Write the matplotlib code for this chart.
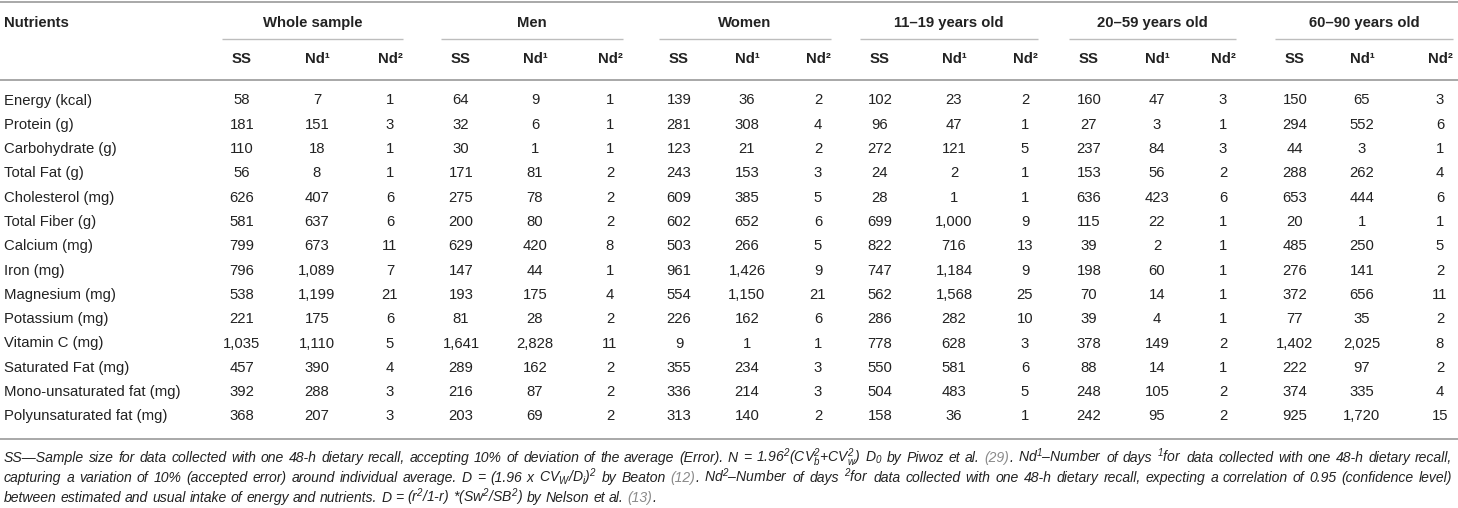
import re
import matplotlib
matplotlib.use("Agg")
import matplotlib.pyplot as plt

plt.rcParams['font.family'] = ['Liberation Sans', 'DejaVu Sans']
plt.rcParams['mathtext.fontset'] = 'custom'
plt.rcParams['mathtext.rm'] = 'Liberation Sans:italic'
plt.rcParams['mathtext.it'] = 'Liberation Sans:italic'
plt.rcParams['mathtext.bf'] = 'Liberation Sans:bold'

# -- table data --
nutrients = ["Energy (kcal)", "Protein (g)", "Carbohydrate (g)", "Total Fat (g)",
             "Cholesterol (mg)", "Total Fiber (g)", "Calcium (mg)", "Iron (mg)",
             "Magnesium (mg)", "Potassium (mg)", "Vitamin C (mg)", "Saturated Fat (mg)",
             "Mono-unsaturated fat (mg)", "Polyunsaturated fat (mg)"]

groups = ["Whole sample", "Men", "Women", "11\u201319 years old",
          "20\u201359 years old", "60\u201390 years old"]
sub_cols = ["SS", "Nd\u00b9", "Nd\u00b2"]

whole_ss = [58, 181, 110, 56, 626, 581, 799, 796, 538, 221, 1035, 457, 392, 368]
whole_nd1 = [7, 151, 18, 8, 407, 637, 673, 1089, 1199, 175, 1110, 390, 288, 207]
whole_nd2 = [1, 3, 1, 1, 6, 6, 11, 7, 21, 6, 5, 4, 3, 3]

men_ss = [64, 32, 30, 171, 275, 200, 629, 147, 193, 81, 1641, 289, 216, 203]
men_nd1 = [9, 6, 1, 81, 78, 80, 420, 44, 175, 28, 2828, 162, 87, 69]
men_nd2 = [1, 1, 1, 2, 2, 2, 8, 1, 4, 2, 11, 2, 2, 2]

women_ss = [139, 281, 123, 243, 609, 602, 503, 961, 554, 226, 9, 355, 336, 313]
women_nd1 = [36, 308, 21, 153, 385, 652, 266, 1426, 1150, 162, 1, 234, 214, 140]
women_nd2 = [2, 4, 2, 3, 5, 6, 5, 9, 21, 6, 1, 3, 3, 2]

age11_ss = [102, 96, 272, 24, 28, 699, 822, 747, 562, 286, 778, 550, 504, 158]
age11_nd1 = [23, 47, 121, 2, 1, 1000, 716, 1184, 1568, 282, 628, 581, 483, 36]
age11_nd2 = [2, 1, 5, 1, 1, 9, 13, 9, 25, 10, 3, 6, 5, 1]

age20_ss = [160, 27, 237, 153, 636, 115, 39, 198, 70, 39, 378, 88, 248, 242]
age20_nd1 = [47, 3, 84, 56, 423, 22, 2, 60, 14, 4, 149, 14, 105, 95]
age20_nd2 = [3, 1, 3, 2, 6, 1, 1, 1, 1, 1, 2, 1, 2, 2]

age60_ss = [150, 294, 44, 288, 653, 20, 485, 276, 372, 77, 1402, 222, 374, 925]
age60_nd1 = [65, 552, 3, 262, 444, 1, 250, 141, 656, 35, 2025, 97, 335, 1720]
age60_nd2 = [3, 6, 1, 4, 6, 1, 5, 2, 11, 2, 8, 2, 4, 15]

group_data = [
    (whole_ss, whole_nd1, whole_nd2),
    (men_ss, men_nd1, men_nd2),
    (women_ss, women_nd1, women_nd2),
    (age11_ss, age11_nd1, age11_nd2),
    (age20_ss, age20_nd1, age20_nd2),
    (age60_ss, age60_nd1, age60_nd2),
]

footnote_lines = [
    "SS\u2014Sample size for data collected with one 48-h dietary recall, accepting 10% of "
    "deviation of the average (Error). N = 1.96$^2$(CV$_b^2$+CV$_w^2$) D$_0$ by Piwoz et al. "
    "{(29)}. Nd$^1$\u2013Number of days $^1$for data collected with one 48-h dietary recall,",
    "capturing a variation of 10% (accepted error) around individual average. "
    "D = (1.96 x CV$_W$/D$_i$)$^2$ by Beaton {(12)}. Nd$^2$\u2013Number of days $^2$for data "
    "collected with one 48-h dietary recall, expecting a correlation of 0.95 (confidence level)",
    "between estimated and usual intake of energy and nutrients. "
    "D = (r$^2$/1-r) *(Sw$^2$/SB$^2$) by Nelson et al. {(13)}.",
]

# -- layout (pixels) --
W, H = 1458, 508
col_x = [(242, 317, 390), (461, 535, 610), (679, 747, 818),
         (880, 954, 1025), (1089, 1157, 1223), (1295, 1362, 1440)]
y_group = 23
y_sub = 59
y_first = 100.5
row_step = 24.3
fs = 10.7
fs_note = 10.1
txt_col = "#222222"
line_col = "#a8a8a8"

fig = plt.figure(figsize=(W / 100, H / 100), dpi=100)
ax = fig.add_axes([0, 0, 1, 1])
ax.set_xlim(0, W)
ax.set_ylim(H, 0)
ax.axis("off")

# rules
for y in (2, 80, 439):
    ax.plot([0, W], [y, y], color=line_col, lw=1.4, solid_capstyle="butt")
for xs in col_x:
    ax.plot([xs[0] - 20, xs[2] + 13], [39, 39], color="#bdbdbd", lw=1.0,
            solid_capstyle="butt")

# headers
ax.text(4, y_group, "Nutrients", fontsize=fs, fontweight="bold", color=txt_col,
        ha="left", va="center")
for g, xs in zip(groups, col_x):
    ax.text((xs[0] - 20 + xs[2] + 13) / 2, y_group, g, fontsize=fs, fontweight="bold",
            color=txt_col, ha="center", va="center")
    for s, x in zip(sub_cols, xs):
        ax.text(x, y_sub, s, fontsize=fs, fontweight="bold", color=txt_col,
                ha="center", va="center")

# body
for i, name in enumerate(nutrients):
    y = y_first + i * row_step
    ax.text(4, y, name, fontsize=fs, color=txt_col, ha="left", va="center")
    for cols, xs in zip(group_data, col_x):
        for vals, x in zip(cols, xs):
            ax.text(x, y, f"{vals[i]:,}", fontsize=fs, color=txt_col,
                    ha="center", va="center")

# footnote, justified word by word
renderer = fig.canvas.get_renderer()


def seg_width(s, color):
    t = ax.text(0, 0, s, fontsize=fs_note, style="italic", color=color)
    w = t.get_window_extent(renderer).width
    t.remove()
    return w


x0, x1 = 4, 1452
note_base = [462, 482, 502]
space_w = 0.278 * fs_note * 100 / 72
for li, line in enumerate(footnote_lines):
    words = []
    for wtxt in line.split(" "):
        segs = []
        for part in re.split(r"(\{[^}]*\})", wtxt):
            if not part:
                continue
            if part.startswith("{"):
                segs.append((part[1:-1], "#8a8a8a"))
            else:
                segs.append((part, txt_col))
        segs = [(s, c, seg_width(s, c)) for s, c in segs]
        words.append(segs)
    widths = [sum(s[2] for s in w) for w in words]
    if li < len(footnote_lines) - 1:
        gap = (x1 - x0 - sum(widths)) / (len(words) - 1)
    else:
        gap = space_w
    x = x0
    for segs, ww in zip(words, widths):
        xx = x
        for s, c, sw in segs:
            ax.text(xx, note_base[li], s, fontsize=fs_note, style="italic", color=c,
                    ha="left", va="baseline")
            xx += sw
        x += ww + gap

fig.savefig("out.png", dpi=100)
